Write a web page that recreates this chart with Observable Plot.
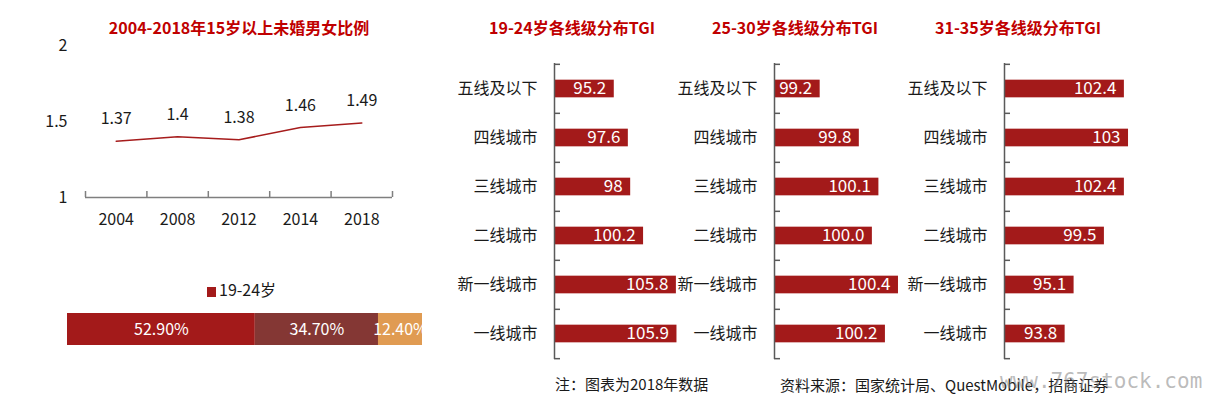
<!DOCTYPE html>
<html><head><meta charset="utf-8">
<script src="https://cdn.jsdelivr.net/npm/d3@7"></script>
<script src="https://cdn.jsdelivr.net/npm/@observablehq/plot@0.6"></script>
<style>
body{margin:0;background:#fff;}
#root{position:relative;width:1208px;height:399px;overflow:hidden;font-family:"Noto Sans CJK SC","Noto Sans",sans-serif;color:#1a1a1a;}
#root svg{position:absolute;left:0;top:0;}
.t{position:absolute;white-space:nowrap;transform:translate(-50%,-50%);line-height:1;}
.l{position:absolute;white-space:nowrap;transform:translate(0,-50%);line-height:1;}
.title{color:#C00000;font-weight:bold;font-size:16px;}
</style></head><body><div id="root"></div>
<script>
// ---- data ----
const years = ["2004","2008","2012","2014","2018"];
const ratios = [1.37, 1.4, 1.38, 1.46, 1.49];
const ageGroups = ["19-24岁","25-30岁","31-35岁"];
const ageShares = [52.9, 34.7, 12.4];
const ageShareLabels = ["52.90%","34.70%","12.40%"];
const cityTiers = ["五线及以下","四线城市","三线城市","二线城市","新一线城市","一线城市"];
const tgi1924 = [95.2, 97.6, 98, 100.2, 105.8, 105.9];
const tgi2530 = [99.2, 99.8, 100.1, 100.0, 100.4, 100.2];
const tgi3135 = [102.4, 103, 102.4, 99.5, 95.1, 93.8];
const titles = ["2004-2018年15岁以上未婚男女比例","19-24岁各线级分布TGI","25-30岁各线级分布TGI","31-35岁各线级分布TGI"];
const note = "注：图表为2018年数据";
const source = "资料来源：国家统计局、QuestMobile，招商证券";

// ---- style ----
const W = 1208, H = 399;
const FONT = '"Noto Sans CJK SC","Noto Sans",sans-serif';
const RED = "#A31A1A", AXIS = "#5a5a5a";
const shareColors = ["#A31A1A","#843734","#E09B52"];
const baseStyle = {background:"transparent", fontSize:"16px", fontFamily:FONT, color:"#1a1a1a", overflow:"visible"};
const root = document.getElementById("root");

function addText(cls, txt, x, y, extra) {
  const d = document.createElement("div");
  d.className = cls; d.textContent = txt;
  d.style.left = x + "px"; d.style.top = y + "px";
  if (extra) Object.assign(d.style, extra);
  root.appendChild(d);
  return d;
}

// ---- line chart ----
const lineData = years.map((y, i) => ({i, year: y, r: ratios[i]}));
const yTop = 45, yBase = 197;
root.appendChild(Plot.plot({
  width: W, height: H, marginLeft: 85, marginRight: W - 392, marginTop: yTop, marginBottom: H - yBase,
  style: baseStyle,
  x: {domain: [-0.5, years.length - 0.5], ticks: years.length, tickFormat: i => years[i], tickSize: 0, tickPadding: 16, label: null},
  y: {domain: [1, 2], ticks: 2, tickFormat: d => String(d), tickSize: 0, tickPadding: 18, label: null},
  marks: [
    Plot.ruleY([1], {stroke: "#7f7f7f", strokeWidth: 1.5}),
    Plot.ruleX(d3.range(-0.5, years.length, 1), {x: d => d, y1: 1, y2: 1 + 6 / (yBase - yTop), stroke: "#7f7f7f", strokeWidth: 1.5}),
    Plot.line(lineData, {x: "i", y: "r", stroke: "#A61C1C", strokeWidth: 1.5}),
    Plot.text(lineData, {x: "i", y: "r", text: d => String(d.r), dy: -22, fontSize: 16, fill: "#1a1a1a"})
  ]
}));

// ---- stacked share bar ----
const shareData = ageGroups.map((g, i) => ({g, v: ageShares[i], label: ageShareLabels[i]}));
root.appendChild(Plot.plot({
  width: W, height: H, marginLeft: 67, marginRight: W - 422, marginTop: 313, marginBottom: H - 345,
  style: baseStyle,
  x: {domain: [0, 100], axis: null},
  color: {domain: ageGroups, range: shareColors},
  marks: [
    Plot.barX(shareData, Plot.stackX({x: "v", fill: "g"})),
    Plot.text(shareData, Plot.stackX({x: "v", text: "label", fill: "white", fontSize: 16}))
  ]
}));

// ---- TGI panels ----
function tgiPanel(values, fmt, axisX, domain, pxPerUnit) {
  const right = axisX + (domain[1] - domain[0]) * pxPerUnit;
  const top = 63, bottom = 359;
  const step = (bottom - top) / cityTiers.length;
  const inset = (step - 18) / 2;
  const data = cityTiers.map((c, i) => ({tier: c, v: values[i]}));
  const tickUnits = 6 / pxPerUnit;
  return Plot.plot({
    width: W, height: H, marginLeft: axisX, marginRight: W - right, marginTop: top, marginBottom: H - bottom,
    style: baseStyle,
    x: {domain, axis: null},
    y: {domain: cityTiers, padding: 0, tickSize: 0, tickPadding: 17, label: null},
    marks: [
      Plot.barX(data, {x1: domain[0], x2: "v", y: "tier", fill: RED, insetTop: inset, insetBottom: inset}),
      Plot.text(data, {x: "v", y: "tier", text: d => fmt(d.v), textAnchor: "end", dx: -8, fill: "white", fontSize: 17}),
      Plot.ruleX([domain[0]], {stroke: AXIS, strokeWidth: 1.5}),
      Plot.ruleY(cityTiers, {y: d => d, x1: domain[0], x2: domain[0] + tickUnits, dy: -step / 2, stroke: AXIS, strokeWidth: 1.5}),
      Plot.ruleY(cityTiers.slice(-1), {y: d => d, x1: domain[0], x2: domain[0] + tickUnits, dy: step / 2, stroke: AXIS, strokeWidth: 1.5})
    ]
  });
}
root.appendChild(tgiPanel(tgi1924, v => String(v), 554, [85, 107], 5.86));
root.appendChild(tgiPanel(tgi2530, v => v.toFixed(1), 774, [98.5, 100.6], 65.25));
root.appendChild(tgiPanel(tgi3135, v => String(v), 1004, [85, 104], 6.89));

// ---- titles, legend, notes ----
addText("t title", titles[0], 239, 27);
addText("t title", titles[1], 572, 27);
addText("t title", titles[2], 795, 27);
addText("t title", titles[3], 1018, 27);
const lg = addText("l", "", 207, 289, {fontSize: "16px"});
lg.innerHTML = '<span style="display:inline-block;width:9px;height:10px;background:' + shareColors[0] + ';margin-right:3px;vertical-align:-1px"></span>' + ageGroups[0];
addText("l", note, 555, 383, {fontSize: "15px"});
addText("l", source, 780, 384, {fontSize: "15px"});
addText("l", "www.767stock.com", 1000, 381, {fontSize: "21px", fontFamily: '"DejaVu Sans Mono",monospace', color: "rgba(130,130,130,0.55)"});
</script></body></html>
